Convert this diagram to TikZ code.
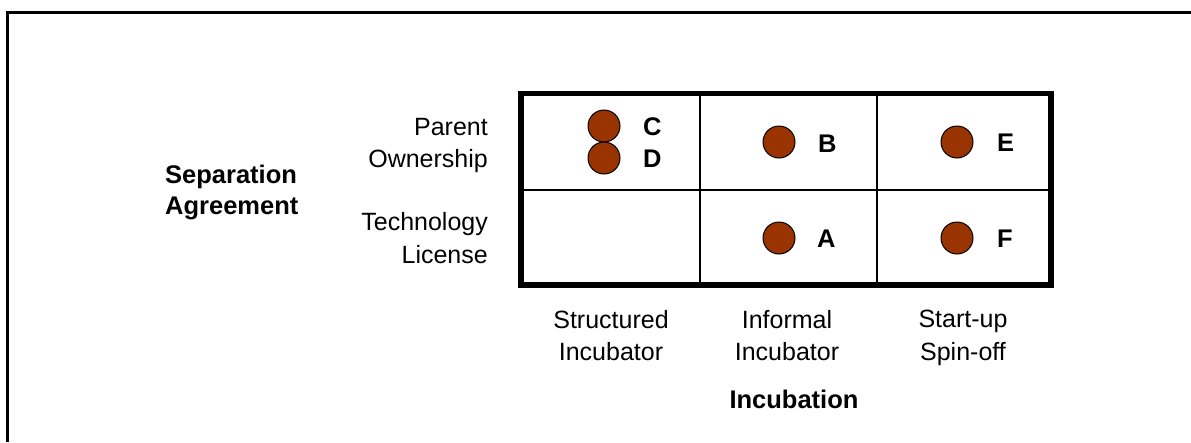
\documentclass[tikz,border=0pt]{standalone}
\usepackage{fontspec}
\setmainfont{Liberation Sans}
\definecolor{dotbrown}{HTML}{993300}
\begin{document}
\begin{tikzpicture}[x=1pt,y=-1pt,
  lbl/.style={inner sep=0pt, anchor=base, font=\fontsize{25}{30}\selectfont},
  lblr/.style={lbl, anchor=base east},
  lbll/.style={lbl, anchor=base west},
  bold/.style={inner sep=0pt, font=\fontsize{25.5}{30}\selectfont\bfseries},
  dot/.style={circle, draw=black, line width=1pt, fill=dotbrown, minimum size=32pt, inner sep=0pt},
  thick frame/.style={line width=5.5pt, line join=miter},
  cell/.style={line width=1.3pt}]
\useasboundingbox (0,0) rectangle (1191,442);
\fill[white] (0,0) rectangle (1191,442);
% outer frame (top and left visible)
\draw[line width=3pt] (7.5,442) -- (7.5,12.5) -- (1191,12.5);
% grid
\coordinate (g1) at (521,93.5);
\coordinate (g2) at (1051,285);
\draw[cell] (700,93.5) -- (700,285);
\draw[cell] (877,93.5) -- (877,285);
\draw[cell] (521,190) -- (1051,190);
\draw[thick frame] (g1) rectangle (g2);
% dots
\node[dot] (dC) at (604,126) {};
\node[dot] (dD) at (604,158) {};
\node[dot] (dB) at (779,142) {};
\node[dot] (dA) at (779,238) {};
\node[dot] (dE) at (957,142) {};
\node[dot] (dF) at (957,238) {};
\node[bold, anchor=base west] (tC) at (643,135) {C};
\node[bold, anchor=base west] (tD) at (643,167) {D};
\node[bold, anchor=base west] (tB) at (818,152) {B};
\node[bold, anchor=base west] (tA) at (817,247) {A};
\node[bold, anchor=base west] (tE) at (997,151) {E};
\node[bold, anchor=base west] (tF) at (997,247) {F};
% row labels
\node[lblr] (p1) at (488,135) {Parent};
\node[lblr] (p2) at (488,167) {Ownership};
\node[lblr] (t1) at (488,230) {Technology};
\node[lblr] (t2) at (488,263) {License};
\node[bold, anchor=base west] (s1) at (165,183) {Separation};
\node[bold, anchor=base west] (s2) at (165,214) {Agreement};
% column labels
\node[lbl] (c11) at (611,328) {Structured};
\node[lbl] (c12) at (611,360) {Incubator};
\node[lbl] (c21) at (787,328) {Informal};
\node[lbl] (c22) at (787,360) {Incubator};
\node[lbl] (c31) at (963,327) {Start-up};
\node[lbl] (c32) at (963,360) {Spin-off};
\node[bold, anchor=base] (inc) at (794,408) {Incubation};
\end{tikzpicture}
\end{document}
